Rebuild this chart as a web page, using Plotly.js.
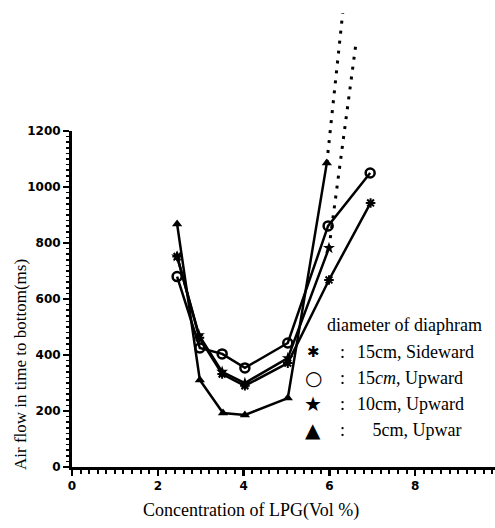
<!DOCTYPE html>
<html><head><meta charset="utf-8">
<script src="https://cdn.plot.ly/plotly-3.0.1.min.js"></script>
<style>html,body{margin:0;padding:0;background:#fff}</style>
</head><body><div id="chart" style="width:495px;height:528px"></div>
<script>
// ---- data ----
const concSideward15 = [2.45, 2.97, 3.5, 4.03, 5.03, 5.99, 6.96];
const timeSideward15 = [752, 462, 332, 290, 371, 668, 943];
const concUpward15   = [2.45, 2.98, 3.5, 4.03, 5.03, 5.97, 6.95];
const timeUpward15   = [680, 425, 404, 354, 443, 861, 1050];
const concUpward10   = [2.45, 2.96, 3.5, 4.03, 5.03, 5.99];
const timeUpward10   = [752, 471, 340, 300, 389, 782];
const concUpward5    = [2.45, 2.98, 3.52, 4.03, 5.03, 5.94];
const timeUpward5    = [868, 311, 193, 186, 246, 1086];
const extUpward5Conc  = [5.94, 6.31];
const extUpward5Time  = [1086, 1621];
const extUpward10Conc = [5.99, 6.62];
const extUpward10Time = [782, 1514];
const xTickVals = [0, 2, 4, 6, 8];
const yTickVals = [0, 200, 400, 600, 800, 1000, 1200];
const legendSymbols = ['\u2731', '\u25CB', '\u2605', '\u25B2'];
const legendTexts = ['15cm, Sideward', '15<i>cm</i>, Upward', '10cm, Upward', ' 5cm, Upwar'];
const legendTitle = 'diameter of diaphram';

// ---- layout helpers (pixel -> paper) ----
const W = 495, H = 528, ML = 72, MR = 0, MT = 5, MB = 61;
const PW = W - ML - MR, PH = H - MT - MB;
const px = v => (v - ML) / PW;
const py = v => (H - MB - v) / PH;
const yTop = 1650;

const lineStyle = {color: '#000', width: 2.5};
const dotStyle = {color: '#000', width: 3, dash: '3px,7px'};
const traces = [
  {x: concSideward15, y: timeSideward15, mode: 'lines+markers', line: lineStyle,
   marker: {symbol: 'asterisk-open', size: 8, color: '#000', line: {width: 2, color: '#000'}}, xaxis: 'x', yaxis: 'y'},
  {x: concUpward15, y: timeUpward15, mode: 'lines+markers', line: lineStyle,
   marker: {symbol: 'circle-open', size: 9, color: '#000', line: {width: 2.5, color: '#000'}}, xaxis: 'x', yaxis: 'y'},
  {x: concUpward10, y: timeUpward10, mode: 'lines+markers', line: lineStyle,
   marker: {symbol: 'star', size: 9, color: '#000'}, xaxis: 'x', yaxis: 'y'},
  {x: concUpward5, y: timeUpward5, mode: 'lines+markers', line: lineStyle,
   marker: {symbol: 'triangle-up', size: 9, color: '#000'}, xaxis: 'x', yaxis: 'y'},
  {x: extUpward5Conc, y: extUpward5Time, mode: 'lines', line: dotStyle, xaxis: 'x', yaxis: 'y2'},
  {x: extUpward10Conc, y: extUpward10Time, mode: 'lines', line: dotStyle, xaxis: 'x', yaxis: 'y2'}
];

const tickFont = {family: 'DejaVu Sans, sans-serif', size: 12, color: '#000', weight: 700};
const serif = 'Liberation Serif, Times New Roman, DejaVu Serif, serif';

const annotations = [
  {text: 'Concentration of LPG(Vol %)', xref: 'paper', yref: 'paper', x: px(251), y: py(510),
   xanchor: 'center', yanchor: 'middle', showarrow: false, font: {family: serif, size: 18, color: '#000'}},
  {text: 'Air flow in time to bottom(ms)', xref: 'paper', yref: 'paper', x: px(20), y: py(365),
   xanchor: 'center', yanchor: 'middle', textangle: -90, showarrow: false, font: {family: serif, size: 17, color: '#000'}},
  {text: legendTitle, xref: 'paper', yref: 'paper', x: px(325), y: py(325),
   xanchor: 'left', yanchor: 'middle', showarrow: false, font: {family: serif, size: 18, color: '#000'}}
];
const rowY = [352, 378, 404, 430];
legendSymbols.forEach((s, i) => {
  annotations.push({text: s, xref: 'paper', yref: 'paper', x: px(313), y: py(rowY[i]), xanchor: 'center', yanchor: 'middle',
    showarrow: false, font: {family: 'DejaVu Sans, sans-serif', size: i === 0 ? 15 : 20, color: '#000'}});
  annotations.push({text: ':', xref: 'paper', yref: 'paper', x: px(342), y: py(rowY[i]), xanchor: 'center', yanchor: 'middle',
    showarrow: false, font: {family: serif, size: 18, color: '#000'}});
  annotations.push({text: legendTexts[i], xref: 'paper', yref: 'paper', x: px(i === 3 ? 366 : 355), y: py(rowY[i]), xanchor: 'left', yanchor: 'middle',
    showarrow: false, font: {family: serif, size: 18, color: '#000'}});
});

const layout = {
  width: W, height: H, margin: {l: ML, r: MR, t: MT, b: MB, pad: 0},
  paper_bgcolor: '#fff', plot_bgcolor: 'rgba(0,0,0,0)', showlegend: false,
  xaxis: {range: [0, PW / 42.9], showgrid: false, zeroline: false, showline: true, linewidth: 3, linecolor: '#000',
    tickmode: 'array', tickvals: xTickVals, ticks: 'outside', ticklen: 6, tickwidth: 2.5, tickcolor: '#000',
    tickfont: tickFont, anchor: 'y',
    minor: {dtick: 0.2, tick0: 0, ticks: 'outside', ticklen: 4, tickwidth: 2, tickcolor: '#000', showgrid: false}},
  yaxis: {range: [0, 1200], domain: [0, 1200 / yTop], showgrid: false, zeroline: false, showline: true, linewidth: 3, linecolor: '#000',
    tickmode: 'array', tickvals: yTickVals, ticks: 'outside', ticklen: 6, tickwidth: 2.5, tickcolor: '#000',
    tickfont: tickFont, anchor: 'x',
    minor: {dtick: 20, tick0: 0, ticks: 'outside', ticklen: 3, tickwidth: 1.5, tickcolor: '#000', showgrid: false}},
  yaxis2: {range: [0, yTop], domain: [0, 1], visible: false, anchor: 'x', showgrid: false, zeroline: false},
  annotations: annotations
};

Plotly.newPlot('chart', traces, layout, {displayModeBar: false, staticPlot: true});
</script></body></html>
